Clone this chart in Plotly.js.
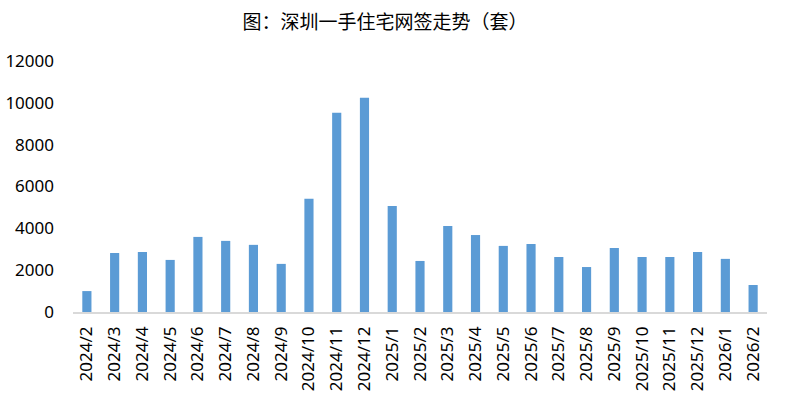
<!DOCTYPE html>
<html>
<head>
<meta charset="utf-8">
<script src="https://cdn.plot.ly/plotly-3.0.1.min.js"></script>
<style>html,body{margin:0;padding:0;background:#fff;}#chart{width:797px;height:399px;}</style>
</head>
<body>
<div id="chart"></div>
<script>
const months = ["2024/2","2024/3","2024/4","2024/5","2024/6","2024/7","2024/8","2024/9","2024/10","2024/11","2024/12","2025/1","2025/2","2025/3","2025/4","2025/5","2025/6","2025/7","2025/8","2025/9","2025/10","2025/11","2025/12","2026/1","2026/2"];
const sales = [1000,2820,2870,2490,3590,3400,3210,2300,5410,9520,10240,5070,2440,4110,3680,3160,3250,2630,2150,3060,2630,2630,2870,2540,1290];
const yTicks = [0,2000,4000,6000,8000,10000,12000];

Plotly.newPlot('chart', [{
  type: 'bar',
  x: months,
  y: sales,
  marker: {color: '#5B9BD5'},
  hoverinfo: 'x+y'
}], {
  width: 797, height: 399,
  margin: {l: 73, r: 30, t: 61, b: 87, pad: 0},
  paper_bgcolor: '#fff', plot_bgcolor: '#fff',
  bargap: 0.67,
  title: {text: '图：深圳一手住宅网签走势（套）', x: 0.483, xref: 'container', xanchor: 'center', y: 0.945, yref: 'container', yanchor: 'middle',
          font: {family: '"Noto Sans CJK SC", sans-serif', size: 19, color: '#000'}},
  xaxis: {type: 'category', tickangle: -90, showgrid: false, showline: true, linecolor: '#d9d9d9', linewidth: 1.5,
          ticks: '', ticklabelstandoff: 6, tickfont: {family: '"Noto Sans", sans-serif', size: 17, color: '#000'}, automargin: false},
  yaxis: {range: [0, 12000], tickvals: yTicks, ticktext: yTicks.map(String), showgrid: false, zeroline: false, showline: false,
          ticks: '', ticklabelstandoff: 18, tickfont: {family: '"Noto Sans", sans-serif', size: 17, color: '#000'}, automargin: false},
  showlegend: false
}, {displayModeBar: false});
</script>
</body>
</html>
